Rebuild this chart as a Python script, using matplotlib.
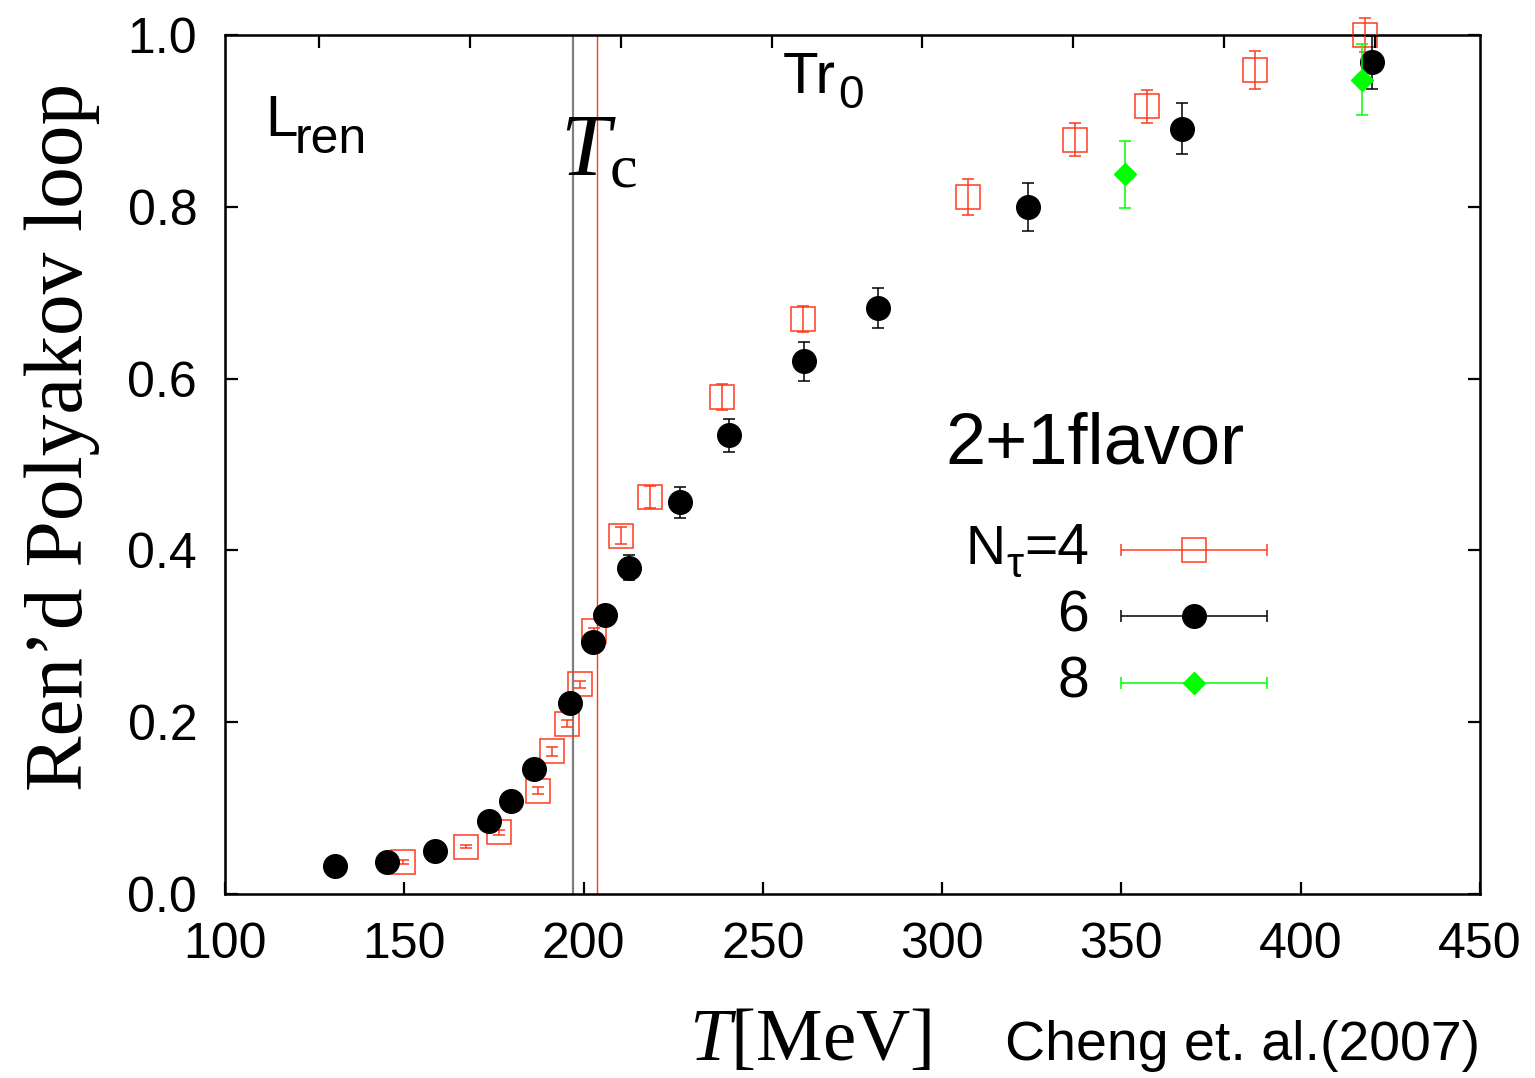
import matplotlib
matplotlib.use("Agg")
import numpy as np
import matplotlib.pyplot as plt

# ---- data: renormalized Polyakov loop vs temperature (2+1 flavor) ----
# N_tau = 4
t_nt4 = [149.7, 167.3, 176.3, 187.2, 191.3, 195.3, 198.9, 202.8, 210.3, 218.4,
         238.5, 261.2, 307.2, 337.0, 357.0, 387.2, 418.0]
l_nt4 = [0.037, 0.055, 0.072, 0.120, 0.166, 0.198, 0.244, 0.306, 0.417, 0.462,
         0.579, 0.669, 0.811, 0.878, 0.917, 0.959, 1.000]
e_nt4 = [0.002, 0.002, 0.003, 0.004, 0.005, 0.004, 0.004, 0.004, 0.010, 0.013,
         0.015, 0.015, 0.021, 0.019, 0.019, 0.022, 0.020]

# N_tau = 6
t_nt6 = [130.7, 145.3, 158.7, 173.7, 179.9, 186.3, 196.1, 202.7, 206.1, 212.8,
         226.8, 240.5, 261.5, 282.1, 323.9, 367.0, 419.8]
l_nt6 = [0.033, 0.037, 0.050, 0.085, 0.108, 0.146, 0.222, 0.293, 0.325, 0.380,
         0.456, 0.534, 0.620, 0.682, 0.800, 0.891, 0.968]
e_nt6 = [0.002, 0.002, 0.003, 0.004, 0.005, 0.006, 0.008, 0.009, 0.010, 0.015,
         0.018, 0.019, 0.023, 0.023, 0.028, 0.030, 0.031]

# N_tau = 8
t_nt8 = [351.1, 417.0]
l_nt8 = [0.838, 0.948]
e_nt8 = [0.039, 0.041]

# transition temperatures (MeV)
tc_values = [197.1, 203.8]
tc_colors = ["#808080", "#ff3a1e"]

# top axis: T*r0 scale
HBARC = 197.327   # MeV fm
R0 = 0.469        # fm
tr0_ticks = [0.3, 0.4, 0.5, 0.6, 0.7, 0.8, 0.9, 1.0]

x_ticks = [100, 150, 200, 250, 300, 350, 400, 450]
y_ticks = [0.0, 0.2, 0.4, 0.6, 0.8, 1.0]

RED = "#ff3a1e"
GREEN = "#00ff00"

plt.rcParams["font.family"] = ["Liberation Sans", "DejaVu Sans"]
plt.rcParams["mathtext.fontset"] = "custom"
plt.rcParams["mathtext.rm"] = "Liberation Serif"
plt.rcParams["mathtext.it"] = "Liberation Serif:italic"
plt.rcParams["mathtext.sf"] = "Liberation Sans"

W, H = 1535, 1078
fig = plt.figure(figsize=(W / 100, H / 100), dpi=100)
ax = fig.add_axes([225 / W, 1 - 894 / H, (1480 - 225) / W, (894 - 35) / H])


def fx(px):
    return px / W


def fy(py):
    return 1 - py / H


for tc, c, lw in zip(tc_values, tc_colors, [1.6, 1.0]):
    ax.axvline(tc, color=c, lw=lw, zorder=1)

ax.errorbar(t_nt4, l_nt4, yerr=e_nt4, fmt="s", ms=17.5, mfc="none", mec=RED,
            mew=1.1, ecolor=RED, elinewidth=1.1, capsize=4.3, capthick=1.1,
            zorder=3, clip_on=False)
ax.errorbar(t_nt6, l_nt6, yerr=e_nt6, fmt="o", ms=17, mfc="black", mec="black",
            ecolor="black", elinewidth=1.1, capsize=4.3, capthick=1.1,
            zorder=4, clip_on=False)
ax.errorbar(t_nt8, l_nt8, yerr=e_nt8, fmt="D", ms=11.7, mfc=GREEN, mec=GREEN,
            ecolor=GREEN, elinewidth=1.1, capsize=4.3, capthick=1.1,
            zorder=5, clip_on=False)

ax.set_xlim(100, 450)
ax.set_ylim(0.0, 1.0)
ax.set_xticks(x_ticks)
ax.set_yticks(y_ticks)
ax.set_yticklabels([f"{v:.1f}" for v in y_ticks])
ax.tick_params(axis="both", direction="in", length=9, width=1.6,
               labelsize=36, top=False, right=True)
ax.tick_params(axis="x", pad=20)
ax.tick_params(axis="y", pad=20)
for s in ax.spines.values():
    s.set_linewidth(1.8)

# T*r0 ticks along the top edge
ax2 = ax.twiny()
ax2.set_xlim(ax.get_xlim())
ax2.set_xticks([v * HBARC / R0 for v in tr0_ticks])
ax2.set_xticklabels([])
ax2.tick_params(axis="x", direction="in", length=9, width=1.6)
ax2.tick_params(axis="y", left=False, right=False)

# legend drawn gnuplot-style: horizontal bars with end caps
legend_rows = [
    ("s", dict(mfc="none", mec=RED, mew=1.1), RED, 0.400),
    ("o", dict(mfc="black", mec="black"), "black", 0.324),
    ("D", dict(mfc=GREEN, mec=GREEN), GREEN, 0.246),
]
legend_ms = {"s": 17.5, "o": 17, "D": 11.7}
for mk, kw, col, yy in legend_rows:
    ax.errorbar([0.772], [yy], xerr=[0.058], fmt=mk, ms=legend_ms[mk],
                ecolor=col, elinewidth=1.1, capsize=4.3, capthick=1.1,
                transform=ax.transAxes, zorder=6, clip_on=False, **kw)

fig.text(fx(966), fy(564), "N", fontsize=40, ha="left", va="baseline")
fig.text(fx(1006), fy(577), "τ", fontsize=31, ha="left", va="baseline")
fig.text(fx(1089), fy(564), "=4", fontsize=41, ha="right", va="baseline")
fig.text(fx(1089), fy(631), "6", fontsize=41, ha="right", va="baseline")
fig.text(fx(1089), fy(698), "8", fontsize=41, ha="right", va="baseline")

# annotations
fig.text(fx(265), fy(136), "L", fontsize=42, ha="left", va="baseline")
fig.text(fx(295), fy(153), "ren", fontsize=36, ha="left", va="baseline")
fig.text(fx(783), fy(93), "Tr", fontsize=42, ha="left", va="baseline")
fig.text(fx(838), fy(108), "0", fontsize=33, ha="left", va="baseline")
fig.text(fx(560), fy(175), r"$T_{\mathrm{c}}$", fontsize=64,
         ha="left", va="baseline")
fig.text(fx(945), fy(464), "2+1flavor", fontsize=52, ha="left", va="baseline")

# axis titles
fig.text(fx(62), fy(437), "Ren’d Polyakov loop", fontsize=60,
         family="Liberation Serif", rotation=90, ha="center", va="center")
fig.text(fx(689), fy(1060), r"$T[\mathrm{MeV}]$", fontsize=54,
         ha="left", va="baseline")
fig.text(fx(1480), fy(1060), "Cheng et. al.(2007)", fontsize=40,
         ha="right", va="baseline")

fig.savefig("out.png", dpi=100)
